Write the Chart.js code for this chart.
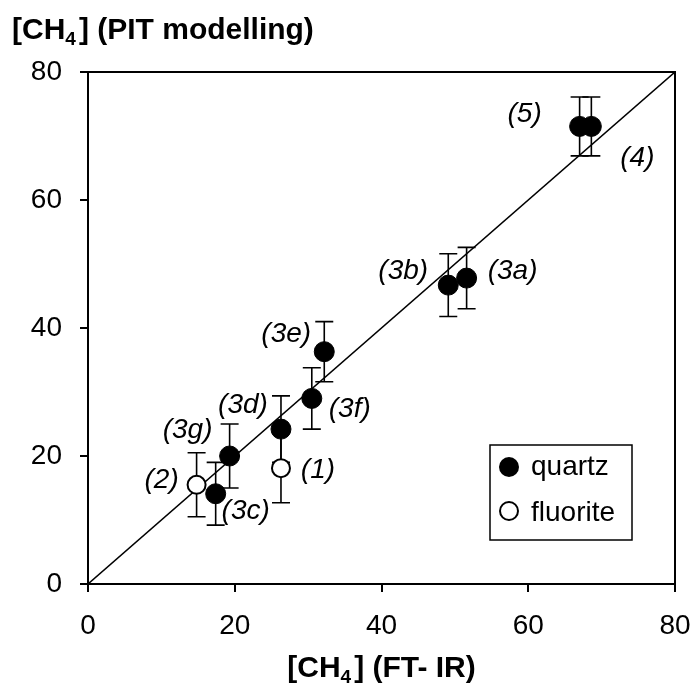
<!DOCTYPE html>
<html>
<head>
<meta charset="utf-8">
<script src="https://cdn.jsdelivr.net/npm/chart.js@4.4.1/dist/chart.umd.min.js"></script>
<style>
    body { margin: 0; background: #fff; }
    canvas { display: block; }
</style>
</head>
<body>
<canvas id="chart" width="694" height="690"></canvas>
<script>
// Data
const quartzLabels = ['(3a)', '(3b)', '(3c)', '(3d)', '(3e)', '(3f)', '(3g)', '(4)', '(5)'];
const quartzFtir = [51.6, 49.1, 17.4, 26.3, 32.2, 30.5, 19.3, 68.6, 67.0];
const quartzPit = [47.8, 46.7, 14.1, 24.2, 36.3, 29.0, 20.0, 71.5, 71.5];
const quartzErr = [4.8, 4.9, 4.9, 5.2, 4.7, 4.8, 5.0, 4.6, 4.6];

const fluoriteLabels = ['(1)', '(2)'];
const fluoriteFtir = [26.3, 14.8];
const fluoritePit = [18.1, 15.5];
const fluoriteErr = [5.4, 5.0];

const lineX = [0, 80];
const lineY = [0, 80];
const axisTicks = [0, 20, 40, 60, 80];

const FONT = '"Liberation Sans", Arial, sans-serif';

// where each point label sits relative to its marker (px)
const labelOffsets = {
    '(3a)': [46, -7], '(3b)': [-45, -14], '(3c)': [30, 17], '(3d)': [-38, -24],
    '(3e)': [-38, -17], '(3f)': [38, 11], '(3g)': [-42, -26], '(4)': [46, 32],
    '(5)': [-55, -12], '(1)': [37, 2], '(2)': [-35, -5]
};

function toPoints(xs, ys) {
    return xs.map((x, i) => ({ x: x, y: ys[i] }));
}

// error bars drawn under the markers
const errorBars = {
    id: 'errorBars',
    beforeDatasetsDraw(chart) {
        const ctx = chart.ctx;
        const xs = chart.scales.x, ys = chart.scales.y;
        const groups = [[quartzFtir, quartzPit, quartzErr], [fluoriteFtir, fluoritePit, fluoriteErr]];
        ctx.save();
        ctx.strokeStyle = '#000';
        ctx.lineWidth = 1.6;
        groups.forEach(g => {
            g[0].forEach((v, i) => {
                const px = xs.getPixelForValue(v);
                const top = ys.getPixelForValue(g[1][i] + g[2][i]);
                const bot = ys.getPixelForValue(g[1][i] - g[2][i]);
                ctx.beginPath();
                ctx.moveTo(px, top); ctx.lineTo(px, bot);
                ctx.moveTo(px - 9, top); ctx.lineTo(px + 9, top);
                ctx.moveTo(px - 9, bot); ctx.lineTo(px + 9, bot);
                ctx.stroke();
            });
        });
        ctx.restore();
    }
};

// frame, point labels, axis titles, legend box
const decorations = {
    id: 'decorations',
    afterDraw(chart) {
        const ctx = chart.ctx;
        const a = chart.chartArea;
        const xs = chart.scales.x, ys = chart.scales.y;
        ctx.save();
        ctx.strokeStyle = '#000';
        ctx.lineWidth = 2;
        ctx.beginPath();
        ctx.moveTo(a.left, a.top); ctx.lineTo(a.right, a.top); ctx.lineTo(a.right, a.bottom);
        ctx.stroke();

        // point labels
        ctx.fillStyle = '#000';
        ctx.font = 'italic 28px ' + FONT;
        ctx.textAlign = 'center';
        ctx.textBaseline = 'middle';
        const drawLabels = (names, fx, fy) => {
            names.forEach((n, i) => {
                const off = labelOffsets[n];
                ctx.fillText(n, xs.getPixelForValue(fx[i]) + off[0], ys.getPixelForValue(fy[i]) + off[1]);
            });
        };
        drawLabels(quartzLabels, quartzFtir, quartzPit);
        drawLabels(fluoriteLabels, fluoriteFtir, fluoritePit);

        // axis titles with subscript
        const drawTitle = (x, y, after, align) => {
            ctx.textAlign = 'left';
            ctx.textBaseline = 'alphabetic';
            ctx.font = 'bold 30px ' + FONT;
            const w1 = ctx.measureText('[CH').width;
            ctx.font = 'bold 19px ' + FONT;
            const w2 = ctx.measureText('4').width + 3;
            ctx.font = 'bold 30px ' + FONT;
            const w3 = ctx.measureText(after).width;
            let sx = align === 'center' ? x - (w1 + w2 + w3) / 2 : x;
            ctx.fillText('[CH', sx, y);
            ctx.font = 'bold 19px ' + FONT;
            ctx.fillText('4', sx + w1, y + 6);
            ctx.font = 'bold 30px ' + FONT;
            ctx.fillText(after, sx + w1 + w2, y);
        };
        drawTitle(12, 39, '] (PIT modelling)', 'left');
        drawTitle((a.left + a.right) / 2, 677, '] (FT- IR)', 'center');

        // legend
        ctx.lineWidth = 1.5;
        ctx.strokeRect(490, 445, 142, 95);
        ctx.beginPath();
        ctx.arc(509, 467, 10, 0, Math.PI * 2);
        ctx.fillStyle = '#000';
        ctx.fill();
        ctx.beginPath();
        ctx.arc(509, 511, 9, 0, Math.PI * 2);
        ctx.fillStyle = '#fff';
        ctx.fill();
        ctx.lineWidth = 2;
        ctx.stroke();
        ctx.fillStyle = '#000';
        ctx.font = '28px ' + FONT;
        ctx.textAlign = 'left';
        ctx.textBaseline = 'middle';
        ctx.fillText('quartz', 531, 467);
        ctx.fillText('fluorite', 531, 513);
        ctx.restore();
    }
};

const tickFont = { family: FONT, size: 28 };

new Chart(document.getElementById('chart'), {
    type: 'scatter',
    data: {
        datasets: [
            {
                label: 'quartz',
                data: toPoints(quartzFtir, quartzPit),
                backgroundColor: '#000',
                borderColor: '#000',
                pointRadius: 10,
                order: 1
            },
            {
                label: 'fluorite',
                data: toPoints(fluoriteFtir, fluoritePit),
                backgroundColor: '#fff',
                borderColor: '#000',
                borderWidth: 2,
                pointRadius: 9,
                order: 0
            },
            {
                type: 'line',
                label: 'y = x',
                data: toPoints(lineX, lineY),
                borderColor: '#000',
                borderWidth: 1.5,
                pointRadius: 0,
                fill: false,
                order: 2
            }
        ]
    },
    options: {
        responsive: false,
        animation: false,
        devicePixelRatio: 1,
        layout: { padding: { left: 0, top: 72, right: 19, bottom: 0 } },
        plugins: {
            legend: { display: false },
            tooltip: { enabled: false }
        },
        scales: {
            x: {
                type: 'linear',
                min: 0,
                max: 80,
                afterFit: s => { s.height = 106; s.paddingLeft = 0; s.paddingRight = 0; },
                afterBuildTicks: s => { s.ticks = axisTicks.map(v => ({ value: v })); },
                ticks: { color: '#000', font: tickFont, padding: 17 },
                grid: { drawOnChartArea: false, drawTicks: true, tickLength: 8, color: '#000', lineWidth: 2 },
                border: { color: '#000', width: 2 }
            },
            y: {
                type: 'linear',
                min: 0,
                max: 80,
                afterFit: s => { s.width = 88; s.paddingTop = 0; s.paddingBottom = 0; },
                afterBuildTicks: s => { s.ticks = axisTicks.map(v => ({ value: v })); },
                ticks: { color: '#000', font: tickFont, padding: 18 },
                grid: { drawOnChartArea: false, drawTicks: true, tickLength: 8, color: '#000', lineWidth: 2 },
                border: { color: '#000', width: 2 }
            }
        }
    },
    plugins: [errorBars, decorations]
});
</script>
</body>
</html>
